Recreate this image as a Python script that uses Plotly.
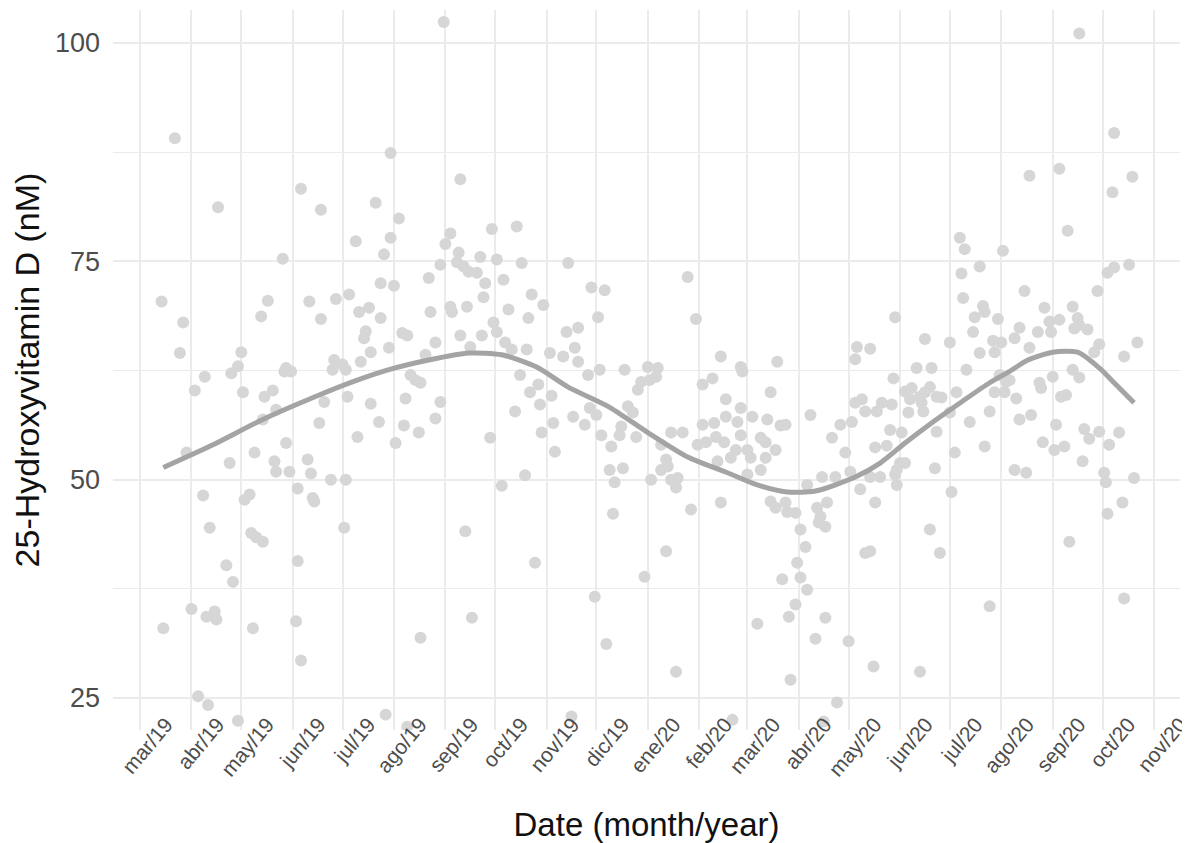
import pandas as pd
import plotly.graph_objects as go

START = "2019-03-01"

# sample day (days since 2019-03-01) and 25(OH)D value (nM)
sample_day = [
    183, 21, 47, 97, 109, 151, 193, 142, 156, 151, 130, 147, 187, 184, 192, 181, 191, 195, 198, 86,
    13, 26, 24, 77, 73, 61, 102, 109, 118, 126, 132, 138, 145, 145, 153, 174, 175, 187, 188, 197,
    193, 136, 135, 158, 161, 139, 150, 178, 133, 117, 122, 88, 59, 172, 199, 39, 33, 55, 62, 75,
    80, 82, 74, 87, 91, 88, 69, 54, 28, 81, 82, 90, 101, 103, 108, 111, 115, 124, 95, 104,
    105, 116, 124, 125, 131, 139, 144, 154, 160, 159, 168, 163, 166, 169, 178, 181, 38, 42, 63, 66,
    67, 70, 74, 52, 56, 95, 123, 196, 31, 40, 45, 46, 14, 68, 94, 97, 169, 35, 41, 59,
    148, 161, 200, 212, 227, 205, 215, 230, 258, 203, 208, 219, 207, 236, 243, 222, 234, 272, 280, 276,
    330, 335, 213, 215, 206, 257, 264, 220, 224, 233, 247, 255, 262, 264, 350, 362, 384, 306, 312, 292,
    277, 229, 235, 240, 248, 241, 226, 211, 242, 249, 250, 261, 268, 271, 275, 270, 278, 284, 289, 290,
    294, 297, 299, 300, 302, 307, 311, 283, 291, 286, 218, 232, 285, 238, 274, 281, 260, 304, 317, 323,
    308, 314, 317, 318, 320, 324, 323, 314, 320, 327, 332, 336, 341, 347, 339, 346, 339, 345, 353, 353,
    360, 362, 350, 348, 352, 356, 359, 362, 369, 363, 366, 368, 366, 374, 377, 383, 377, 374, 380, 378,
    386, 389, 404, 372, 380, 383, 389, 390, 395, 398, 401, 396, 398, 402, 387, 395, 391, 407, 392, 357,
    402, 411, 408, 410, 409, 413, 413, 412,
    566, 587, 536, 554, 598, 586, 559, 494, 497, 520, 506, 495, 596, 583, 587, 533, 577, 496, 455, 508,
    509, 503, 517, 545, 548, 554, 562, 565, 566, 571, 563, 530, 541, 549, 502, 473, 488, 432, 440, 431,
    514, 519, 515, 527, 506, 536, 578, 575, 601, 593, 468, 477, 498, 562, 454, 461, 465, 470, 473, 476,
    480, 483, 464, 471, 431, 435, 437, 444, 447, 453, 422, 429, 417, 425, 452, 459, 443, 450, 463, 472,
    480, 458, 461, 456, 455, 456, 419, 428, 440, 446, 434, 443, 414, 479, 489, 491, 500, 488, 492, 509,
    512, 515, 521, 522, 524, 528, 518, 527, 534, 530, 537, 542, 543, 550, 544, 551, 557, 552, 555, 558,
    566, 568, 569, 572, 578, 584, 590, 581, 582, 599, 583, 592, 560, 593, 476, 482, 437, 440, 512, 427,
    442, 470, 420,
]
vitamin_d = [
    102.4, 89.1, 81.2, 83.3, 80.9, 87.4, 84.4, 81.7, 79.9, 77.7, 77.3, 75.8, 78.2, 77.0, 76.0, 74.6, 74.9, 74.4, 73.8, 75.3,
    70.4, 68.0, 64.5, 70.5, 68.7, 64.6, 70.4, 68.4, 70.7, 71.2, 69.2, 69.7, 68.5, 72.5, 72.2, 73.1, 69.2, 69.8, 69.2, 69.8,
    66.5, 67.0, 66.2, 66.8, 66.5, 64.6, 65.1, 65.7, 63.5, 63.7, 63.2, 62.8, 63.0, 64.3, 65.2, 61.8, 60.2, 62.2, 60.0, 59.5,
    60.2, 58.0, 56.9, 62.4, 62.4, 54.2, 53.1, 51.9, 53.1, 52.1, 50.9, 50.9, 52.3, 50.7, 56.5, 58.9, 50.0, 50.0, 49.0, 47.9,
    47.5, 62.6, 62.6, 59.5, 54.9, 58.7, 56.6, 54.2, 59.3, 56.2, 55.4, 62.0, 61.4, 61.1, 57.0, 58.9, 48.2, 44.5, 47.7, 48.3,
    43.9, 43.4, 42.9, 40.2, 38.3, 40.7, 44.5, 44.1, 35.2, 34.3, 34.9, 34.0, 33.0, 33.0, 33.8, 29.3, 31.9, 25.2, 24.2, 22.4,
    23.1, 21.7, 34.2, 78.7, 79.0, 75.5, 75.2, 74.8, 74.8, 73.7, 72.5, 72.9, 70.9, 71.2, 70.0, 69.5, 68.5, 72.0, 71.7, 68.6,
    73.2, 68.4, 68.0, 66.9, 66.5, 66.9, 67.4, 65.7, 64.9, 64.9, 64.5, 64.1, 65.1, 63.5, 64.1, 62.9, 63.5, 62.9, 62.8, 62.6,
    62.6, 62.0, 60.0, 60.9, 59.6, 58.6, 57.8, 54.8, 55.4, 56.5, 53.2, 57.2, 56.3, 58.2, 57.4, 62.0, 55.1, 53.8, 55.1, 56.1,
    58.4, 57.7, 54.9, 60.3, 61.2, 61.4, 61.8, 51.1, 51.3, 49.7, 49.3, 50.5, 46.1, 40.5, 36.6, 31.2, 22.9, 38.9, 41.8, 28.0,
    50.0, 51.1, 52.3, 51.5, 50.0, 50.2, 49.1, 54.0, 55.4, 55.4, 46.6, 54.0, 54.3, 54.9, 56.3, 56.5, 60.9, 61.6, 59.2, 57.2,
    56.6, 58.2, 47.4, 52.1, 54.3, 52.5, 53.4, 55.1, 57.2, 62.4, 53.4, 52.5, 50.6, 54.8, 54.3, 53.4, 52.5, 51.1, 60.0, 56.9,
    56.2, 56.3, 57.4, 33.5, 47.5, 46.8, 47.4, 46.3, 46.2, 44.3, 42.3, 40.5, 38.8, 37.4, 38.6, 35.7, 34.3, 31.8, 27.1, 22.5,
    49.4, 50.3, 46.8, 45.8, 45.1, 44.6, 34.2, 22.3,
    101.1, 89.7, 84.8, 85.6, 84.7, 82.9, 78.5, 77.7, 76.4, 76.2, 74.4, 73.6, 74.6, 73.7, 74.3, 71.6, 71.6, 70.8, 68.6, 69.9,
    69.2, 68.6, 68.4, 69.7, 68.1, 68.3, 69.8, 68.5, 67.7, 67.2, 67.3, 67.4, 66.9, 66.9, 66.9, 66.1, 65.7, 65.2, 65.0, 63.8,
    65.9, 65.7, 64.6, 66.2, 64.5, 65.1, 65.5, 64.6, 65.7, 64.1, 62.8, 62.8, 62.6, 62.6, 61.6, 60.1, 60.5, 59.5, 60.0, 60.6,
    59.5, 59.4, 59.2, 58.8, 58.8, 59.2, 57.8, 57.8, 58.8, 58.6, 56.3, 56.6, 54.8, 53.1, 55.7, 55.4, 53.7, 53.9, 57.7, 57.8,
    55.5, 51.9, 51.9, 51.1, 50.6, 49.4, 50.3, 50.9, 50.3, 50.3, 48.9, 47.4, 47.4, 51.3, 48.6, 53.1, 56.6, 57.7, 60.0, 53.8,
    57.8, 60.0, 60.0, 61.2, 61.4, 59.3, 62.0, 51.1, 50.8, 56.9, 57.4, 61.1, 60.5, 61.8, 54.3, 53.4, 53.8, 56.3, 59.5, 59.7,
    61.7, 52.1, 55.8, 54.7, 55.5, 54.0, 55.4, 50.8, 49.7, 50.2, 46.1, 47.4, 42.9, 36.4, 44.3, 41.6, 41.6, 41.8, 35.5, 31.5,
    28.6, 28.0, 24.5,
]

# smoothed trend
trend_day = [14, 44, 74, 108, 128, 150, 174, 198, 218, 239, 258, 282, 306, 330, 354, 372,
             390, 407, 431, 446, 461, 477, 495, 512, 524, 535, 550, 565, 578, 587, 599]
trend_value = [51.4, 54.0, 56.9, 59.7, 61.2, 62.6, 63.7, 64.5, 64.3, 62.9, 60.6, 58.4, 55.4, 52.6, 50.8, 49.4,
               48.6, 48.7, 50.3, 51.9, 54.2, 56.5, 58.9, 61.1, 62.4, 63.7, 64.6, 64.6, 62.8, 61.1, 58.8]

month_labels = ["mar/19", "abr/19", "may/19", "jun/19", "jul/19", "ago/19", "sep/19", "oct/19",
                "nov/19", "dic/19", "ene/20", "feb/20", "mar/20", "abr/20", "may/20", "jun/20",
                "jul/20", "ago/20", "sep/20", "oct/20", "nov/20"]
y_ticks = [25, 50, 75, 100]
y_minor = [37.5, 62.5, 87.5]

start = pd.Timestamp(START)
x_pts = start + pd.to_timedelta(sample_day, unit="D")
x_trend = start + pd.to_timedelta(trend_day, unit="D")
tick_dates = pd.date_range(START, periods=len(month_labels), freq="MS")

FONT = "Liberation Sans, Arial, Helvetica, sans-serif"
GRID = "#EBEBEB"

fig = go.Figure()
fig.add_trace(go.Scatter(
    x=x_pts, y=vitamin_d, mode="markers",
    marker=dict(size=12, color="#D6D6D6", line=dict(width=0)),
    showlegend=False, hoverinfo="skip"))
fig.add_trace(go.Scatter(
    x=x_trend, y=trend_value, mode="lines",
    line=dict(color="#A4A4A4", width=5, shape="spline", smoothing=0.7),
    showlegend=False, hoverinfo="skip"))

fig.update_layout(
    width=1182, height=835,
    margin=dict(l=105, r=10, t=2, b=113),
    plot_bgcolor="white", paper_bgcolor="white",
    font=dict(family=FONT, color="#000000"),
)
fig.update_xaxes(
    range=[start - pd.Timedelta(days=16.3), pd.Timestamp("2020-11-01") + pd.Timedelta(days=15.7)],
    tickmode="array", tickvals=tick_dates, ticktext=month_labels,
    tickangle=-50, tickfont=dict(size=21, color="#4D4D4D", family=FONT),
    ticklabelshift=26, ticklabeloverflow="allow",
    anchor="free", position=0.032,
    showgrid=True, gridcolor=GRID, gridwidth=1.8,
    zeroline=False, showline=False, ticks="",
    title=dict(text="Date (month/year)", font=dict(size=33, color="#111111", family=FONT), standoff=42),
    automargin=False,
)
fig.update_yaxes(
    range=[21.34, 103.78], domain=[0, 1],
    tickmode="array", tickvals=y_ticks,
    tickfont=dict(size=27, color="#4D4D4D", family=FONT),
    ticklabelstandoff=12,
    showgrid=True, gridcolor=GRID, gridwidth=1.8,
    minor=dict(tickmode="array", tickvals=y_minor, showgrid=True, gridcolor=GRID, gridwidth=1.3, ticks=""),
    zeroline=False, showline=False, ticks="",
    title=dict(text="25-Hydroxyvitamin D (nM)", font=dict(size=34, color="#111111", family=FONT), standoff=8),
    automargin=False,
)

fig.write_html("out.html")
